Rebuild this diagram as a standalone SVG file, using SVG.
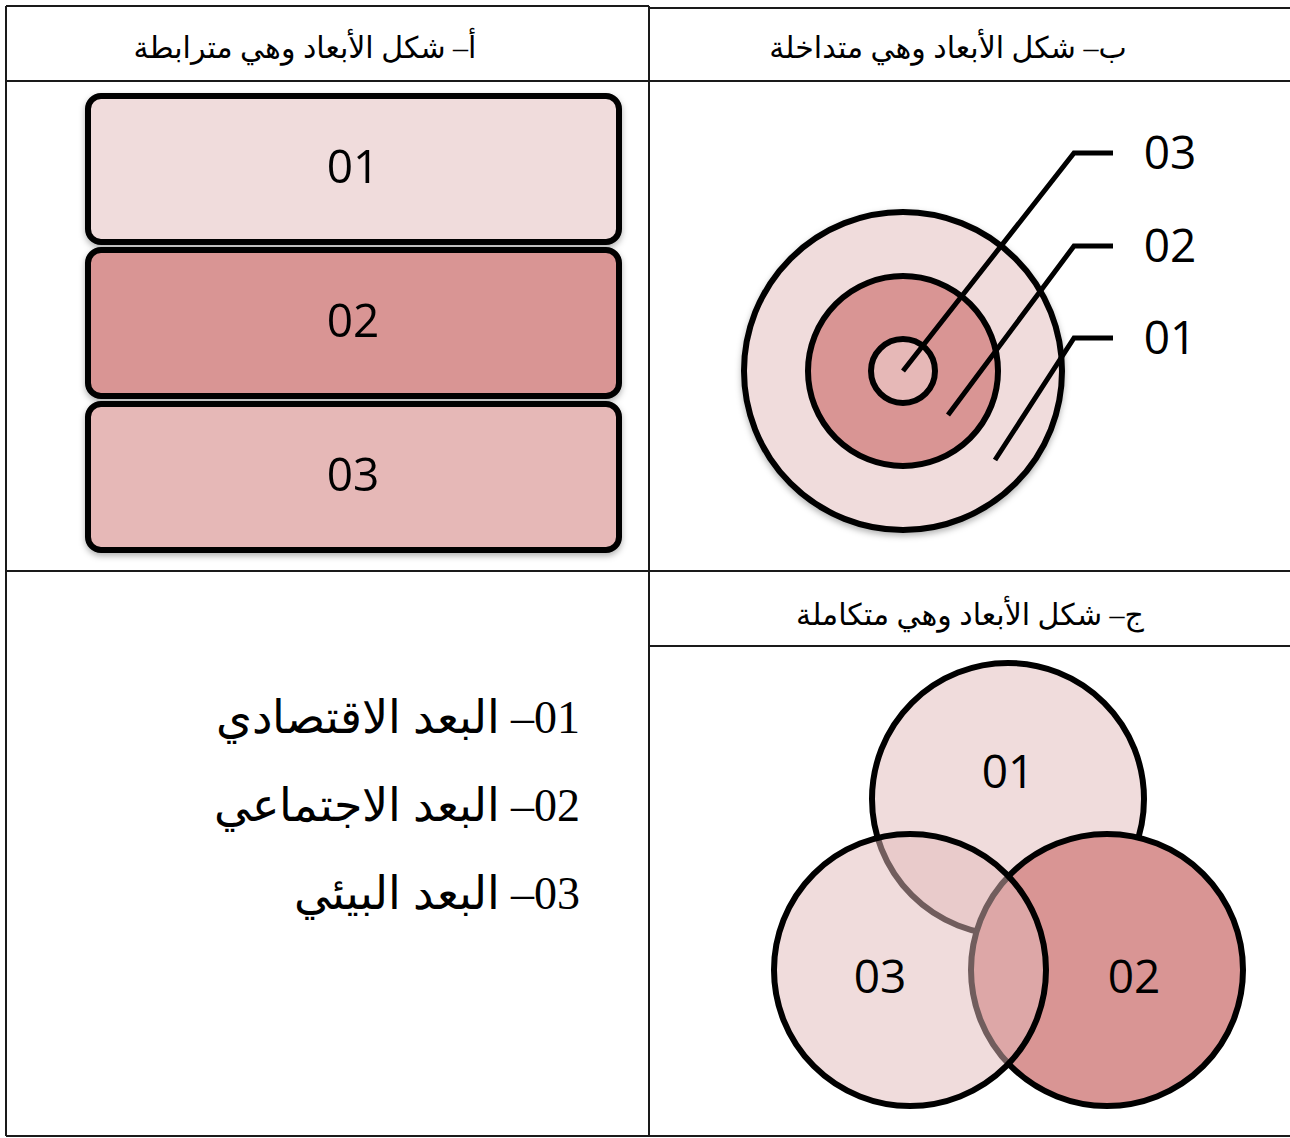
<svg xmlns="http://www.w3.org/2000/svg" width="1290" height="1138" viewBox="0 0 1290 1138">
  <style>
    .grid { stroke: #1a1a1a; stroke-width: 2; fill: none; }
    .head { font-family: "Liberation Serif", "DejaVu Sans", serif; font-size: 30px; fill: #000; }
    .num { font-family: "Open Sans", "Liberation Sans", sans-serif; font-size: 46px; fill: #000; text-anchor: middle; }
    .box { stroke: #000; stroke-width: 6; }
    .ring { stroke: #000; stroke-width: 6; }
    .lead { stroke: #000; stroke-width: 5; fill: none; stroke-linecap: butt; }
    .list { font-family: "Liberation Serif", "DejaVu Serif", serif; font-size: 46px; fill: #000; }
    .light { fill: #F0DCDC; }
    .mid { fill: #E6B8B7; }
    .dark { fill: #D99594; }
  </style>
  <defs>
    <filter id="shadow" x="-10%" y="-10%" width="120%" height="130%">
      <feDropShadow dx="0" dy="3" stdDeviation="3" flood-color="#000" flood-opacity="0.3"/>
    </filter>
  </defs>

  <rect width="1290" height="1138" fill="#fff"/>

  <!-- table rules -->
  <g id="table" class="grid">
    <line x1="6" y1="6" x2="649" y2="6"/>
    <line x1="649" y1="8" x2="1290" y2="8"/>
    <line x1="6" y1="81" x2="1290" y2="81"/>
    <line x1="6" y1="571" x2="1290" y2="571"/>
    <line x1="649" y1="646" x2="1290" y2="646"/>
    <line x1="6" y1="1136" x2="1290" y2="1136"/>
    <line x1="6" y1="6" x2="6" y2="1136"/>
    <line x1="649" y1="6" x2="649" y2="1136"/>
  </g>

  <!-- cell headings -->
  <g id="headings">
    <text class="head" x="305" y="58" text-anchor="middle" direction="rtl">أ–  شكل الأبعاد وهي مترابطة</text>
    <text class="head" x="948" y="58" text-anchor="middle" direction="rtl">ب– شكل الأبعاد وهي متداخلة</text>
    <text class="head" x="970" y="625" text-anchor="middle" direction="rtl">ج– شكل الأبعاد وهي متكاملة</text>
  </g>

  <!-- (a) stacked boxes -->
  <g id="box-01" filter="url(#shadow)">
    <rect class="box light" x="88" y="96" width="531" height="146" rx="13"/>
    <text class="num" x="353" y="183">01</text>
  </g>
  <g id="box-02" filter="url(#shadow)">
    <rect class="box dark" x="88" y="250" width="531" height="146" rx="13"/>
    <text class="num" x="353" y="337">02</text>
  </g>
  <g id="box-03" filter="url(#shadow)">
    <rect class="box mid" x="88" y="404" width="531" height="146" rx="13"/>
    <text class="num" x="353" y="491">03</text>
  </g>

  <!-- (b) nested rings -->
  <g id="ring-01" filter="url(#shadow)">
    <circle class="ring light" cx="903" cy="371" r="159"/>
  </g>
  <g id="ring-02">
    <circle class="ring dark" cx="903" cy="371" r="95"/>
  </g>
  <g id="ring-03">
    <circle class="ring mid" cx="903" cy="371" r="32"/>
  </g>

  <g id="leaders">
    <polyline class="lead" points="903,371 1074,153 1113,153"/>
    <polyline class="lead" points="948,415 1074,246 1113,246"/>
    <polyline class="lead" points="995,460 1074,338 1113,338"/>
  </g>

  <g id="ring-labels">
    <text class="num" x="1170" y="169">03</text>
    <text class="num" x="1170" y="262">02</text>
    <text class="num" x="1170" y="354">01</text>
  </g>

  <!-- (c) overlapping circles -->
  <g id="venn-01">
    <circle class="ring light" cx="1008" cy="799" r="136"/>
    <text class="num" x="1008" y="788">01</text>
  </g>
  <g id="venn-02">
    <circle class="ring dark" cx="1107" cy="970" r="136"/>
    <text class="num" x="1134" y="993">02</text>
  </g>
  <g id="venn-03">
    <circle cx="910" cy="970" r="136" fill="#E1B9B9" fill-opacity="0.5" stroke="#000" stroke-width="6"/>
    <text class="num" x="880" y="993">03</text>
  </g>

  <!-- list of dimensions -->
  <g id="legend">
    <text class="list" x="580" y="733" direction="rtl" text-anchor="start">01– البعد الاقتصادي</text>
    <text class="list" x="580" y="821" direction="rtl" text-anchor="start">02– البعد الاجتماعي</text>
    <text class="list" x="580" y="909" direction="rtl" text-anchor="start">03– البعد البيئي</text>
  </g>
</svg>
